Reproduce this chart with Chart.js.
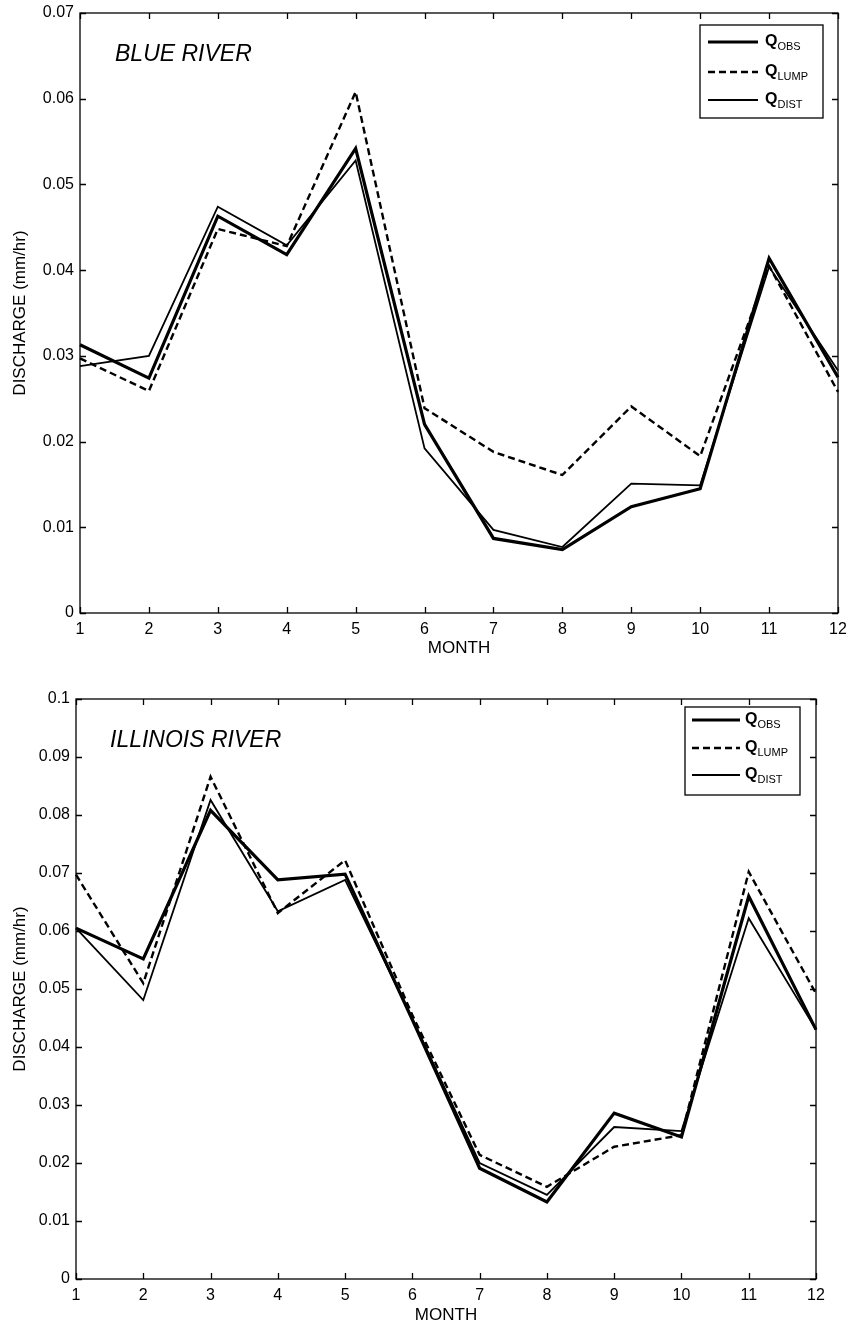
<!DOCTYPE html>
<html lang="en">
<head>
<meta charset="UTF-8">
<title>Monthly discharge - Blue River / Illinois River</title>
<script src="https://cdn.jsdelivr.net/npm/chart.js"></script>
<style>
  body { margin: 0; background: #fff; }
  .panel { position: relative; width: 849px; }
  #top { height: 660px; }
  #bottom { height: 666px; }
</style>
</head>
<body>
<div class="panel" id="top"><canvas id="blue"></canvas></div>
<div class="panel" id="bottom"><canvas id="illinois"></canvas></div>

<script>
// data (mm/hr)
const months = ['1', '2', '3', '4', '5', '6', '7', '8', '9', '10', '11', '12'];
const seriesNames = ['OBS', 'LUMP', 'DIST'];

const blueObs  = [0.0313, 0.0274, 0.0463, 0.0418, 0.0542, 0.0220, 0.0087, 0.0074, 0.0124, 0.0145, 0.0414, 0.0275];
const blueLump = [0.0297, 0.0259, 0.0448, 0.0428, 0.0608, 0.0239, 0.0188, 0.0161, 0.0241, 0.0183, 0.0405, 0.0258];
const blueDist = [0.0288, 0.0300, 0.0474, 0.0429, 0.0528, 0.0192, 0.0097, 0.0077, 0.0151, 0.0149, 0.0404, 0.0283];

const illObs  = [0.0605, 0.0552, 0.0808, 0.0688, 0.0698, 0.0447, 0.0191, 0.0133, 0.0286, 0.0245, 0.0660, 0.0430];
const illLump = [0.0697, 0.0510, 0.0866, 0.0631, 0.0722, 0.0455, 0.0214, 0.0159, 0.0228, 0.0248, 0.0702, 0.0492];
const illDist = [0.0605, 0.0481, 0.0826, 0.0634, 0.0688, 0.0449, 0.0200, 0.0145, 0.0262, 0.0255, 0.0622, 0.0430];

const FONT = "'Liberation Sans', Arial, Helvetica, sans-serif";

// matlab-ish box, inward ticks, river name and the legend with subscripts
const frame = {
    id: 'frame',
    afterDatasetsDraw(chart, args, opts) {
        const ctx = chart.ctx;
        const a = chart.chartArea;
        const xs = chart.scales.x, ys = chart.scales.y;
        ctx.save();
        ctx.strokeStyle = '#000';
        ctx.lineWidth = 1.3;
        ctx.setLineDash([]);
        ctx.strokeRect(a.left, a.top, a.width, a.height);

        const len = 6;
        ctx.beginPath();
        xs.ticks.forEach((t, i) => {
            const px = Math.round(xs.getPixelForTick(i)) + 0.5;
            ctx.moveTo(px, a.bottom); ctx.lineTo(px, a.bottom - len);
            ctx.moveTo(px, a.top); ctx.lineTo(px, a.top + len);
        });
        ys.ticks.forEach((t, i) => {
            const py = Math.round(ys.getPixelForTick(i)) + 0.5;
            ctx.moveTo(a.left, py); ctx.lineTo(a.left + len, py);
            ctx.moveTo(a.right, py); ctx.lineTo(a.right - len, py);
        });
        ctx.stroke();

        // river name
        ctx.fillStyle = '#000';
        ctx.font = 'italic 23px ' + FONT;
        ctx.textBaseline = 'middle';
        ctx.textAlign = 'left';
        ctx.fillText(opts.title, a.left + opts.titleDx, a.top + opts.titleDy);

        // legend
        const L = opts.legend;
        const bx = a.right - L.right - L.w, by = a.top + L.top;
        ctx.fillStyle = '#fff';
        ctx.fillRect(bx, by, L.w, L.h);
        ctx.lineWidth = 1.3;
        ctx.strokeRect(bx, by, L.w, L.h);
        chart.data.datasets.forEach((ds, i) => {
            const ry = by + L.rows[i];
            ctx.strokeStyle = '#000';
            ctx.lineWidth = ds.borderWidth;
            ctx.setLineDash(ds.borderDash || []);
            ctx.beginPath();
            ctx.moveTo(bx + L.line[0], ry);
            ctx.lineTo(bx + L.line[1], ry);
            ctx.stroke();
            ctx.setLineDash([]);
            ctx.fillStyle = '#000';
            ctx.font = 'bold 16px ' + FONT;
            ctx.textBaseline = 'middle';
            ctx.fillText('Q', bx + L.text, ry);
            const qw = ctx.measureText('Q').width;
            ctx.font = '11px ' + FONT;
            ctx.fillText(ds.label, bx + L.text + qw, ry + 5);
        });
        ctx.restore();
    }
};

function makeChart(id, obs, lump, dist, yMax, cfg) {
    return new Chart(document.getElementById(id), {
        type: 'line',
        data: {
            labels: months,
            datasets: [
                { label: seriesNames[0], data: obs, borderColor: '#000', borderWidth: 3.2 },
                { label: seriesNames[1], data: lump, borderColor: '#000', borderWidth: 2.4, borderDash: [7, 4] },
                { label: seriesNames[2], data: dist, borderColor: '#000', borderWidth: 1.8 }
            ]
        },
        options: {
            responsive: true,
            maintainAspectRatio: false,
            animation: false,
            elements: { point: { radius: 0 }, line: { tension: 0 } },
            layout: { padding: { top: cfg.top, right: cfg.right, left: 0, bottom: 0 } },
            plugins: {
                legend: { display: false },
                tooltip: { enabled: false },
                frame: { title: cfg.title, titleDx: cfg.titleDx, titleDy: cfg.titleDy, legend: cfg.legend }
            },
            scales: {
                x: {
                    type: 'category',
                    offset: false,
                    grid: { display: false, drawTicks: false },
                    border: { display: false },
                    ticks: { color: '#000', font: { family: FONT, size: 16 }, padding: 7, maxRotation: 0, autoSkip: false },
                    title: { display: true, text: 'MONTH', color: '#000', font: { family: FONT, size: 17 }, padding: { top: 0, bottom: cfg.monthPad } },
                    afterFit: s => { s.height = 47; s.paddingLeft = 0; s.paddingRight = 0; }
                },
                y: {
                    min: 0,
                    max: yMax,
                    grid: { display: false, drawTicks: false },
                    border: { display: false },
                    ticks: {
                        stepSize: 0.01,
                        color: '#000',
                        font: { family: FONT, size: 16 },
                        padding: 6,
                        autoSkip: false,
                        callback: v => String(Number(v.toFixed(2)))
                    },
                    title: { display: true, text: 'DISCHARGE (mm/hr)', color: '#000', font: { family: FONT, size: 17 }, padding: { top: 10, bottom: 0 } },
                    afterFit: s => { s.width = cfg.left; s.paddingTop = 0; s.paddingBottom = 0; }
                }
            }
        },
        plugins: [frame]
    });
}

makeChart('blue', blueObs, blueLump, blueDist, 0.07, {
    top: 13, right: 11, left: 80, monthPad: 1,
    title: 'BLUE RIVER', titleDx: 35, titleDy: 42,
    legend: { right: 15, top: 12, w: 123, h: 93, rows: [17, 47, 75], line: [8, 58], text: 65 }
});

makeChart('illinois', illObs, illLump, illDist, 0.1, {
    top: 39, right: 33, left: 76, monthPad: 0,
    title: 'ILLINOIS RIVER', titleDx: 34, titleDy: 42,
    legend: { right: 16, top: 8, w: 115, h: 88, rows: [13, 41, 68], line: [7, 55], text: 60 }
});
</script>
</body>
</html>
